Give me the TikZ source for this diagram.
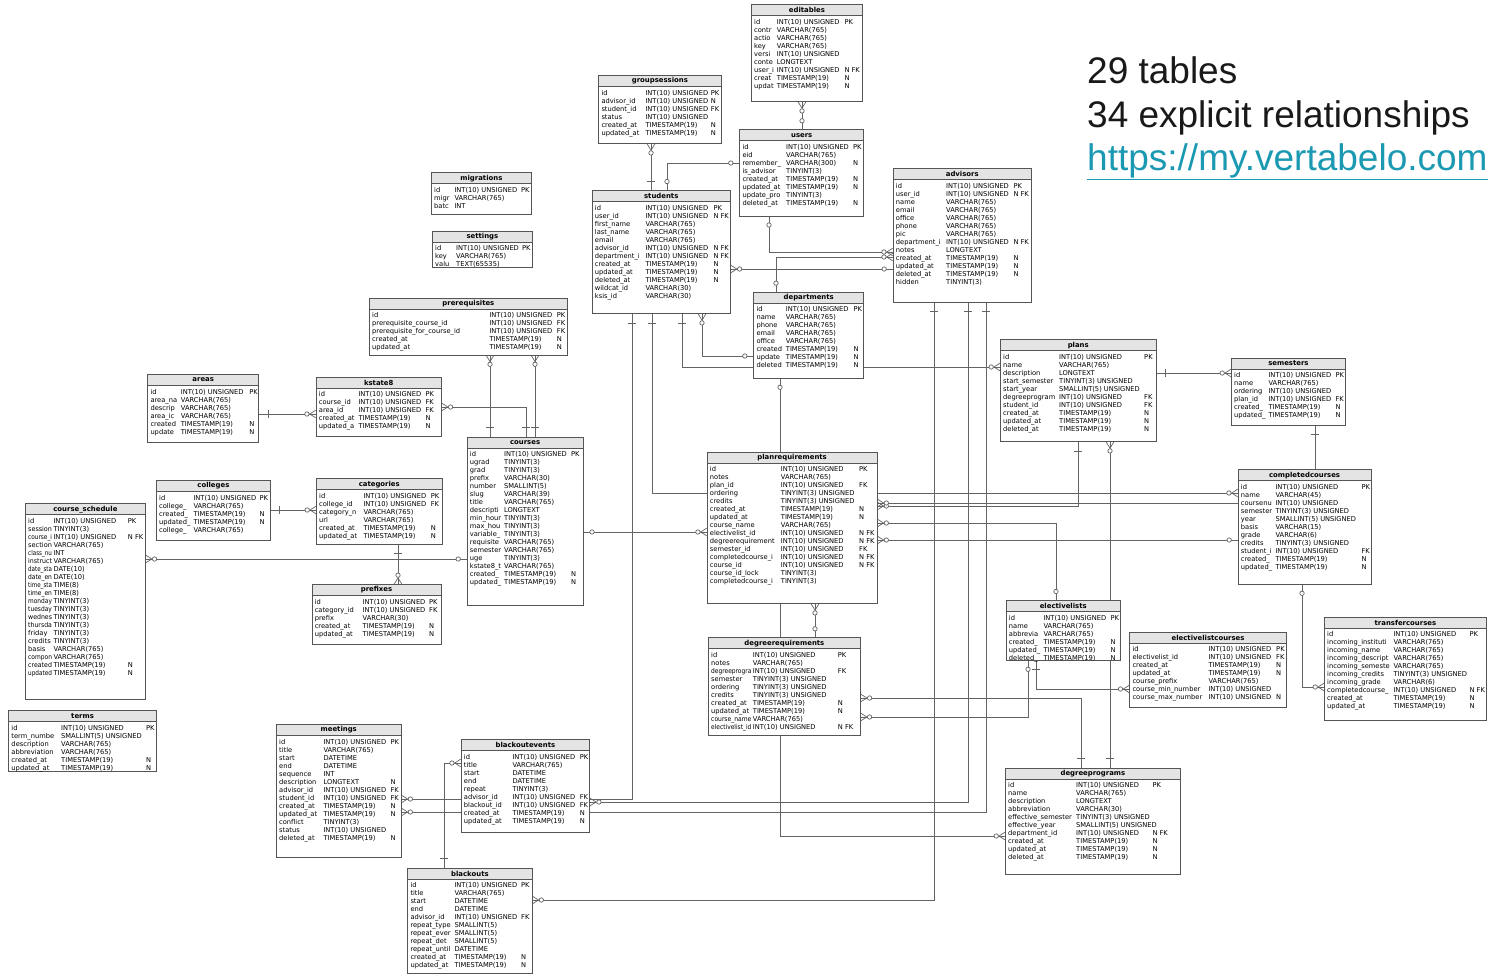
\documentclass[tikz,border=0pt]{standalone}
\usepackage{fontspec}
\usepackage{array}
\usepackage{graphicx}
\setmainfont{DejaVu Sans}
\newfontfamily\notefont{Liberation Sans}
\usetikzlibrary{backgrounds}
\definecolor{tblline}{RGB}{85,85,85}
\definecolor{headfill}{RGB}{228,228,228}
\definecolor{relline}{RGB}{100,100,100}
\definecolor{linkteal}{RGB}{27,153,178}
\definecolor{notegray}{RGB}{25,25,25}

% crow's foot ends
\pgfdeclarearrow{
  name = erdmany,
  setup code = {
    \pgfarrowssettipend{0pt}
    \pgfarrowssetlineend{0pt}
    \pgfarrowssetbackend{-12pt}
    \pgfarrowssetvisualbackend{-12pt}
    \pgfarrowsupperhullpoint{0pt}{4pt}
    \pgfarrowsupperhullpoint{-12pt}{2.5pt}
  },
  drawing code = {
    \pgfpathmoveto{\pgfqpoint{0pt}{3.8pt}}
    \pgfpathlineto{\pgfqpoint{-6pt}{0pt}}
    \pgfpathlineto{\pgfqpoint{0pt}{-3.8pt}}
    \pgfusepathqstroke
    \pgfsetfillcolor{white}
    \pgfpathcircle{\pgfqpoint{-8.8pt}{0pt}}{2.2pt}
    \pgfusepathqfillstroke
  }
}
\pgfdeclarearrow{
  name = erdone,
  setup code = {
    \pgfarrowssettipend{0pt}
    \pgfarrowssetlineend{0pt}
    \pgfarrowssetbackend{-10pt}
    \pgfarrowssetvisualbackend{-10pt}
    \pgfarrowsupperhullpoint{-9pt}{4pt}
  },
  drawing code = {
    \pgfpathmoveto{\pgfqpoint{-9pt}{4pt}}
    \pgfpathlineto{\pgfqpoint{-9pt}{-4pt}}
    \pgfusepathqstroke
  }
}
\pgfdeclarearrow{
  name = erdopt,
  setup code = {
    \pgfarrowssettipend{0pt}
    \pgfarrowssetlineend{0pt}
    \pgfarrowssetbackend{-11pt}
    \pgfarrowssetvisualbackend{-11pt}
    \pgfarrowsupperhullpoint{-6pt}{2.5pt}
  },
  drawing code = {
    \pgfsetfillcolor{white}
    \pgfpathcircle{\pgfqpoint{-8.5pt}{0pt}}{2.2pt}
    \pgfusepathqfillstroke
  }
}

% squeeze a column name into its column
\newsavebox{\namebox}
\newlength{\namewd}
\newcommand{\fitname}[1]{\setlength{\namewd}{#1}\addtolength{\namewd}{-1.5pt}%
  \makebox[#1][l]{\ifdim\wd\namebox>\namewd\resizebox{\namewd}{\height}{\usebox{\namebox}}\else\usebox{\namebox}\fi}}

% name, x, y, width, height, title, name column, type column, rows
\newcommand{\dbtable}[9]{%
  \node[tbl, minimum width=#4pt, minimum height=#5pt] (#1) at (#2,#3) {};
  \node[tblhead, minimum width=#4pt] (#1-head) at (#1.north west) {#6};
  \node[tblrows] (#1-rows) at ([xshift=3pt,yshift=-2.6pt]#1-head.south west)
    {\begin{tabular}{@{}>{\begin{lrbox}{\namebox}}l<{\end{lrbox}\fitname{#7pt}}@{}w{l}{#8pt}@{}l@{}}#9\end{tabular}};%
}

\begin{document}
\begin{tikzpicture}[x=1pt, y=-1pt,
    tbl/.style={draw=tblline, fill=white, line width=0.8pt, anchor=north west, inner sep=0pt},
    tblhead/.style={draw=tblline, fill=headfill, line width=0.8pt, anchor=north west, inner sep=0pt,
      minimum height=11pt, font=\fontsize{6.9}{8}\selectfont\bfseries},
    tblrows/.style={anchor=north west, inner sep=0pt, font=\fontsize{6.7}{8}\selectfont},
    rel/.style={draw=relline, line width=0.7pt},
    note/.style={anchor=base west, inner sep=0pt, text=notegray, font=\notefont\fontsize{37}{44}\selectfont}]
    \useasboundingbox (0,0) rectangle (1489,974);

    % Tables
    \dbtable{editables}{751}{4.3}{111}{97}{editables}{22.7}{67.6}{%
      id & INT(10) UNSIGNED & PK\\ contr & VARCHAR(765) &\\ actio & VARCHAR(765) &\\
      key & VARCHAR(765) &\\ versi & INT(10) UNSIGNED &\\ conte & LONGTEXT &\\
      user\_i & INT(10) UNSIGNED & N FK\\ creat & TIMESTAMP(19) & N\\ updat & TIMESTAMP(19) & N}
    \dbtable{groupsessions}{598.3}{75}{122.4}{68.3}{groupsessions}{44}{65.4}{%
      id & INT(10) UNSIGNED & PK\\ advisor\_id & INT(10) UNSIGNED & N\\
      student\_id & INT(10) UNSIGNED & FK\\ status & INT(10) UNSIGNED &\\
      created\_at & TIMESTAMP(19) & N\\ updated\_at & TIMESTAMP(19) & N}
    \dbtable{users}{739.3}{129.3}{124}{86.4}{users}{43.7}{67}{%
      id & INT(10) UNSIGNED & PK\\ eid & VARCHAR(765) &\\ remember\_ & VARCHAR(300) & N\\
      is\_advisor & TINYINT(3) &\\ created\_at & TIMESTAMP(19) & N\\ updated\_at & TIMESTAMP(19) & N\\
      update\_pro & TINYINT(3) &\\ deleted\_at & TIMESTAMP(19) & N}
    \dbtable{migrations}{431}{172.3}{100}{41.7}{migrations}{20.3}{66.7}{%
      id & INT(10) UNSIGNED & PK\\ migr & VARCHAR(765) &\\ batc & INT &}
    \dbtable{settings}{432}{230.7}{100}{36}{settings}{21}{66}{%
      id & INT(10) UNSIGNED & PK\\ key & VARCHAR(765) &\\ valu & TEXT(65535) &}
    \dbtable{students}{591.7}{190}{138.3}{123.3}{students}{50.6}{68}{%
      id & INT(10) UNSIGNED & PK\\ user\_id & INT(10) UNSIGNED & N FK\\ first\_name & VARCHAR(765) &\\
      last\_name & VARCHAR(765) &\\ email & VARCHAR(765) &\\ advisor\_id & INT(10) UNSIGNED & N FK\\
      department\_i & INT(10) UNSIGNED & N FK\\ created\_at & TIMESTAMP(19) & N\\
      updated\_at & TIMESTAMP(19) & N\\ deleted\_at & TIMESTAMP(19) & N\\
      wildcat\_id & VARCHAR(30) &\\ ksis\_id & VARCHAR(30) &}
    \dbtable{prerequisites}{369}{297.7}{198}{57}{prerequisites}{117.3}{67.4}{%
      id & INT(10) UNSIGNED & PK\\ prerequisite\_course\_id & INT(10) UNSIGNED & FK\\
      prerequisite\_for\_course\_id & INT(10) UNSIGNED & FK\\ created\_at & TIMESTAMP(19) & N\\
      updated\_at & TIMESTAMP(19) & N}
    \dbtable{advisors}{892.7}{168.3}{138.3}{133.4}{advisors}{50.3}{67.3}{%
      id & INT(10) UNSIGNED & PK\\ user\_id & INT(10) UNSIGNED & N FK\\ name & VARCHAR(765) &\\
      email & VARCHAR(765) &\\ office & VARCHAR(765) &\\ phone & VARCHAR(765) &\\ pic & VARCHAR(765) &\\
      department\_i & INT(10) UNSIGNED & N FK\\ notes & LONGTEXT &\\ created\_at & TIMESTAMP(19) & N\\
      updated\_at & TIMESTAMP(19) & N\\ deleted\_at & TIMESTAMP(19) & N\\ hidden & TINYINT(3) &}
    \dbtable{departments}{753.3}{291.7}{110}{86.3}{departments}{29.4}{67.6}{%
      id & INT(10) UNSIGNED & PK\\ name & VARCHAR(765) &\\ phone & VARCHAR(765) &\\
      email & VARCHAR(765) &\\ office & VARCHAR(765) &\\ created & TIMESTAMP(19) & N\\
      update & TIMESTAMP(19) & N\\ deleted & TIMESTAMP(19) & N}
    \dbtable{plans}{1000}{339.3}{155.7}{102}{plans}{56}{85}{%
      id & INT(10) UNSIGNED & PK\\ name & VARCHAR(765) &\\ description & LONGTEXT &\\
      start\_semester & TINYINT(3) UNSIGNED &\\ start\_year & SMALLINT(5) UNSIGNED &\\
      degreeprogram & INT(10) UNSIGNED & FK\\ student\_id & INT(10) UNSIGNED & FK\\
      created\_at & TIMESTAMP(19) & N\\ updated\_at & TIMESTAMP(19) & N\\ deleted\_at & TIMESTAMP(19) & N}
    \dbtable{semesters}{1231}{357.7}{114}{67.3}{semesters}{34.3}{67}{%
      id & INT(10) UNSIGNED & PK\\ name & VARCHAR(765) &\\ ordering & INT(10) UNSIGNED &\\
      plan\_id & INT(10) UNSIGNED & FK\\ created\_ & TIMESTAMP(19) & N\\ updated\_ & TIMESTAMP(19) & N}
    \dbtable{areas}{147.3}{374}{111}{68.3}{areas}{30.4}{68.5}{%
      id & INT(10) UNSIGNED & PK\\ area\_na & VARCHAR(765) &\\ descrip & VARCHAR(765) &\\
      area\_ic & VARCHAR(765) &\\ created & TIMESTAMP(19) & N\\ update & TIMESTAMP(19) & N}
    \dbtable{kstate8}{315.7}{376.7}{125.3}{59}{kstate8}{39.6}{67}{%
      id & INT(10) UNSIGNED & PK\\ course\_id & INT(10) UNSIGNED & FK\\ area\_id & INT(10) UNSIGNED & FK\\
      created\_at & TIMESTAMP(19) & N\\ updated\_a & TIMESTAMP(19) & N}
    \dbtable{colleges}{156}{480}{114}{60}{colleges}{34.3}{66}{%
      id & INT(10) UNSIGNED & PK\\ college\_ & VARCHAR(765) &\\ created\_ & TIMESTAMP(19) & N\\
      updated\_ & TIMESTAMP(19) & N\\ college\_ & VARCHAR(765) &}
    \dbtable{categories}{316}{478.3}{125.7}{65.7}{categories}{44.3}{67.3}{%
      id & INT(10) UNSIGNED & PK\\ college\_id & INT(10) UNSIGNED & FK\\ category\_n & VARCHAR(765) &\\
      url & VARCHAR(765) &\\ created\_at & TIMESTAMP(19) & N\\ updated\_at & TIMESTAMP(19) & N}
    \dbtable{courses}{466.7}{436.7}{116}{168}{courses}{34.3}{67}{%
      id & INT(10) UNSIGNED & PK\\ ugrad & TINYINT(3) &\\ grad & TINYINT(3) &\\ prefix & VARCHAR(30) &\\
      number & SMALLINT(5) &\\ slug & VARCHAR(39) &\\ title & VARCHAR(765) &\\ descripti & LONGTEXT &\\
      min\_hour & TINYINT(3) &\\ max\_hou & TINYINT(3) &\\ variable\_ & TINYINT(3) &\\
      requisite & VARCHAR(765) &\\ semester & VARCHAR(765) &\\ uge & TINYINT(3) &\\
      kstate8\_t & VARCHAR(765) &\\ created\_ & TIMESTAMP(19) & N\\ updated\_ & TIMESTAMP(19) & N}
    \dbtable{planrequirements}{706.7}{451.7}{170}{151.6}{planrequirements}{71}{78.3}{%
      id & INT(10) UNSIGNED & PK\\ notes & VARCHAR(765) &\\ plan\_id & INT(10) UNSIGNED & FK\\
      ordering & TINYINT(3) UNSIGNED &\\ credits & TINYINT(3) UNSIGNED &\\
      created\_at & TIMESTAMP(19) & N\\ updated\_at & TIMESTAMP(19) & N\\ course\_name & VARCHAR(765) &\\
      electivelist\_id & INT(10) UNSIGNED & N FK\\ degreerequirement & INT(10) UNSIGNED & N FK\\
      semester\_id & INT(10) UNSIGNED & FK\\ completedcourse\_i & INT(10) UNSIGNED & N FK\\
      course\_id & INT(10) UNSIGNED & N FK\\ course\_id\_lock & TINYINT(3) &\\
      completedcourse\_i & TINYINT(3) &}
    \dbtable{completedcourses}{1237.7}{469.3}{133}{114.7}{completedcourses}{34.6}{86}{%
      id & INT(10) UNSIGNED & PK\\ name & VARCHAR(45) &\\ coursenu & INT(10) UNSIGNED &\\
      semester & TINYINT(3) UNSIGNED &\\ year & SMALLINT(5) UNSIGNED &\\ basis & VARCHAR(15) &\\
      grade & VARCHAR(6) &\\ credits & TINYINT(3) UNSIGNED &\\ student\_i & INT(10) UNSIGNED & FK\\
      created\_ & TIMESTAMP(19) & N\\ updated\_ & TIMESTAMP(19) & N}
    \dbtable{electivelists}{1005.7}{600}{114.3}{60}{electivelists}{34.6}{67}{%
      id & INT(10) UNSIGNED & PK\\ name & VARCHAR(765) &\\ abbrevia & VARCHAR(765) &\\
      created\_ & TIMESTAMP(19) & N\\ updated\_ & TIMESTAMP(19) & N\\ deleted\_ & TIMESTAMP(19) & N}
    \dbtable{electivelistcourses}{1129.3}{631.7}{156.7}{75}{electivelistcourses}{76}{67.7}{%
      id & INT(10) UNSIGNED & PK\\ electivelist\_id & INT(10) UNSIGNED & FK\\
      created\_at & TIMESTAMP(19) & N\\ updated\_at & TIMESTAMP(19) & N\\ course\_prefix & VARCHAR(765) &\\
      course\_min\_number & INT(10) UNSIGNED &\\ course\_max\_number & INT(10) UNSIGNED & N}
    \dbtable{transfercourses}{1324}{616.7}{162}{103}{transfercourses}{66.3}{76}{%
      id & INT(10) UNSIGNED & PK\\ incoming\_instituti & VARCHAR(765) &\\ incoming\_name & VARCHAR(765) &\\
      incoming\_descript & VARCHAR(765) &\\ incoming\_semeste & VARCHAR(765) &\\
      incoming\_credits & TINYINT(3) UNSIGNED &\\ incoming\_grade & VARCHAR(6) &\\
      completedcourse\_ & INT(10) UNSIGNED & N FK\\ created\_at & TIMESTAMP(19) & N\\
      updated\_at & TIMESTAMP(19) & N}
    \dbtable{courseschedule}{25}{503.3}{120}{195.7}{course\_schedule}{25.3}{74.4}{%
      id & INT(10) UNSIGNED & PK\\ session & TINYINT(3) &\\ course\_i & INT(10) UNSIGNED & N FK\\
      section & VARCHAR(765) &\\ class\_nu & INT &\\ instruct & VARCHAR(765) &\\ date\_sta & DATE(10) &\\
      date\_en & DATE(10) &\\ time\_sta & TIME(8) &\\ time\_en & TIME(8) &\\ monday & TINYINT(3) &\\
      tuesday & TINYINT(3) &\\ wednes & TINYINT(3) &\\ thursda & TINYINT(3) &\\ friday & TINYINT(3) &\\
      credits & TINYINT(3) &\\ basis & VARCHAR(765) &\\ compon & VARCHAR(765) &\\
      created & TIMESTAMP(19) & N\\ updated & TIMESTAMP(19) & N}
    \dbtable{terms}{8.3}{710}{147.7}{61}{terms}{49.7}{85}{%
      id & INT(10) UNSIGNED & PK\\ term\_numbe & SMALLINT(5) UNSIGNED &\\ description & VARCHAR(765) &\\
      abbreviation & VARCHAR(765) &\\ created\_at & TIMESTAMP(19) & N\\ updated\_at & TIMESTAMP(19) & N}
    \dbtable{prefixes}{311.6}{584}{129}{60}{prefixes}{47.9}{66.5}{%
      id & INT(10) UNSIGNED & PK\\ category\_id & INT(10) UNSIGNED & FK\\ prefix & VARCHAR(30) &\\
      created\_at & TIMESTAMP(19) & N\\ updated\_at & TIMESTAMP(19) & N}
    \dbtable{degreerequirements}{708}{637.3}{152}{98}{degreerequirements}{41.7}{85}{%
      id & INT(10) UNSIGNED & PK\\ notes & VARCHAR(765) &\\ degreeprogra & INT(10) UNSIGNED & FK\\
      semester & TINYINT(3) UNSIGNED &\\ ordering & TINYINT(3) UNSIGNED &\\ credits & TINYINT(3) UNSIGNED &\\
      created\_at & TIMESTAMP(19) & N\\ updated\_at & TIMESTAMP(19) & N\\ course\_name & VARCHAR(765) &\\
      electivelist\_id & INT(10) UNSIGNED & N FK}
    \dbtable{meetings}{276}{724}{124.7}{132.7}{meetings}{44.3}{67}{%
      id & INT(10) UNSIGNED & PK\\ title & VARCHAR(765) &\\ start & DATETIME &\\ end & DATETIME &\\
      sequence & INT &\\ description & LONGTEXT & N\\ advisor\_id & INT(10) UNSIGNED & FK\\
      student\_id & INT(10) UNSIGNED & FK\\ created\_at & TIMESTAMP(19) & N\\ updated\_at & TIMESTAMP(19) & N\\
      conflict & TINYINT(3) &\\ status & INT(10) UNSIGNED &\\ deleted\_at & TIMESTAMP(19) & N}
    \dbtable{blackoutevents}{460.7}{739}{128.6}{93}{blackoutevents}{48.6}{67.3}{%
      id & INT(10) UNSIGNED & PK\\ title & VARCHAR(765) &\\ start & DATETIME &\\ end & DATETIME &\\
      repeat & TINYINT(3) &\\ advisor\_id & INT(10) UNSIGNED & FK\\ blackout\_id & INT(10) UNSIGNED & FK\\
      created\_at & TIMESTAMP(19) & N\\ updated\_at & TIMESTAMP(19) & N}
    \dbtable{blackouts}{407.3}{867.7}{124.4}{105}{blackouts}{44}{66.7}{%
      id & INT(10) UNSIGNED & PK\\ title & VARCHAR(765) &\\ start & DATETIME &\\ end & DATETIME &\\
      advisor\_id & INT(10) UNSIGNED & FK\\ repeat\_type & SMALLINT(5) &\\ repeat\_ever & SMALLINT(5) &\\
      repeat\_det & SMALLINT(5) &\\ repeat\_until & DATETIME &\\ created\_at & TIMESTAMP(19) & N\\
      updated\_at & TIMESTAMP(19) & N}
    \dbtable{degreeprograms}{1005}{767.7}{175}{106}{degreeprograms}{68}{76.3}{%
      id & INT(10) UNSIGNED & PK\\ name & VARCHAR(765) &\\ description & LONGTEXT &\\
      abbreviation & VARCHAR(30) &\\ effective\_semester & TINYINT(3) UNSIGNED &\\
      effective\_year & SMALLINT(5) UNSIGNED &\\ department\_id & INT(10) UNSIGNED & N FK\\
      created\_at & TIMESTAMP(19) & N\\ updated\_at & TIMESTAMP(19) & N\\ deleted\_at & TIMESTAMP(19) & N}

    % Relationships
    \begin{scope}[on background layer]
    \draw[rel, erdmany-erdopt] (802,0 |- editables.south) -- (802,0 |- users.north);
    \draw[rel, erdmany-erdone] (651,0 |- groupsessions.south) -- (651,0 |- students.north);
    \draw[rel, erdopt-erdopt] (users.west |- 0,163) -| (667,0 |- students.north);
    \draw[rel, erdopt-erdmany] (769,0 |- users.south) |- (advisors.west |- 0,252);
    \draw[rel, erdopt-erdmany] (776,0 |- departments.north) |- (advisors.west |- 0,257);
    \draw[rel, erdmany-erdopt] (students.east |- 0,269) -- (advisors.west |- 0,269);
    \draw[rel, erdmany-erdopt] (702,0 |- students.south) |- (departments.west |- 0,356);
    \draw[rel, erdone-erdmany] (682,0 |- students.south) |- (plans.west |- 0,367);
    \draw[rel, erdone-erdmany] (plans.east |- 0,373) -- (semesters.west |- 0,373);
    \draw[rel, erdone-erdmany] (1078,0 |- plans.south) |- (planrequirements.east |- 0,506);
    \draw[rel, erdone-erdmany] (1315,0 |- semesters.south) |- (planrequirements.east |- 0,503);
    \draw[rel, erdmany-erdopt] (planrequirements.east |- 0,523) -| (1056,0 |- electivelists.north);
    \draw[rel, erdmany-erdopt] (planrequirements.east |- 0,540) -- (completedcourses.west |- 0,540);
    \draw[rel, erdopt-erdmany] (courses.east |- 0,532) -- (planrequirements.west |- 0,532);
    \draw[rel, erdmany-erdopt] (815,0 |- planrequirements.south) -- (815,0 |- degreerequirements.north);
    \draw[rel, erdone-erdmany] (652,0 |- students.south) |- (completedcourses.west |- 0,493);
    \draw[rel, erdopt-erdmany] (1302,0 |- completedcourses.south) |- (transfercourses.west |- 0,687);
    \draw[rel, erdone-erdmany] (1036,0 |- electivelists.south) |- (electivelistcourses.west |- 0,689);
    \draw[rel, erdmany-erdopt] (degreerequirements.east |- 0,717) -| (1028,0 |- electivelists.south);
    \draw[rel, erdmany-erdone] (degreerequirements.east |- 0,698) -| (1081,0 |- degreeprograms.north);
    \draw[rel, erdmany-erdone] (1110,0 |- plans.south) -- (1110,0 |- degreeprograms.north);
    \draw[rel, erdopt-erdmany] (780,0 |- departments.south) |- (degreeprograms.west |- 0,836);
    \draw[rel, erdmany-erdone] (490,0 |- prerequisites.south) -- (490,0 |- courses.north);
    \draw[rel, erdmany-erdone] (535,0 |- prerequisites.south) -- (535,0 |- courses.north);
    \draw[rel, erdmany-erdone] (kstate8.east |- 0,407) -| (526,0 |- courses.north);
    \draw[rel, erdone-erdmany] (areas.east |- 0,414) -- (kstate8.west |- 0,414);
    \draw[rel, erdone-erdmany] (colleges.east |- 0,510) -- (categories.west |- 0,510);
    \draw[rel, erdone-erdmany] (398,0 |- categories.south) -- (398,0 |- prefixes.north);
    \draw[rel, erdmany-erdopt] (courseschedule.east |- 0,559) -- (courses.west |- 0,559);
    \draw[rel, erdone-erdmany] (632,0 |- students.south) |- (meetings.east |- 0,799);
    \draw[rel, erdone-erdmany] (986,0 |- advisors.south) |- (meetings.east |- 0,812);
    \draw[rel, erdone-erdmany] (968,0 |- advisors.south) |- (blackoutevents.east |- 0,802);
    \draw[rel, erdmany-erdone] (blackoutevents.west |- 0,763) -| (444,0 |- blackouts.north);
    \draw[rel, erdone-erdmany] (934,0 |- advisors.south) |- (blackouts.east |- 0,900);
    \end{scope}

    % Summary
    \node[note] (tablecount) at (1087,84) {29 tables};
    \node[note] (relcount) at (1087,127) {34 explicit relationships};
    \node[note, text=linkteal] (vertabelo) at (1087,170) {\underline{https://my.vertabelo.com}};
\end{tikzpicture}
\end{document}
